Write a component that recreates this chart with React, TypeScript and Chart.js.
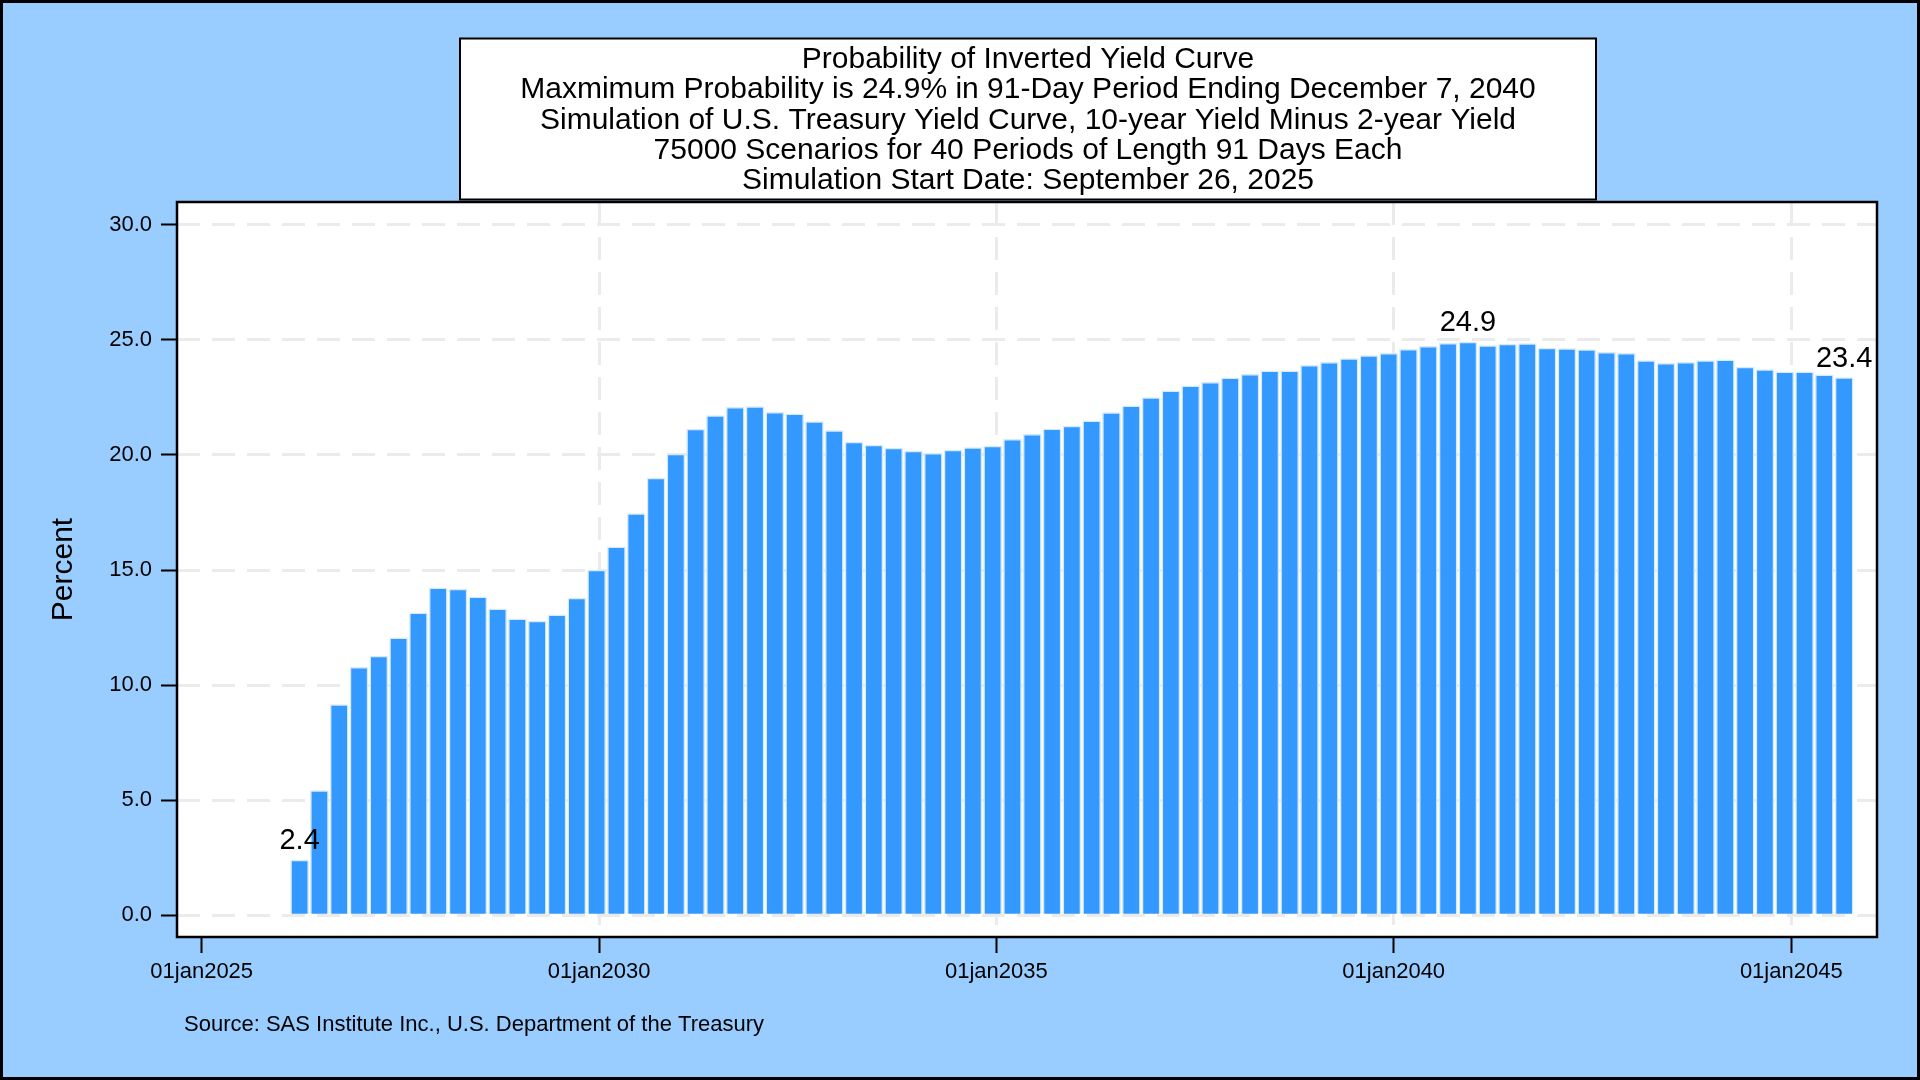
import { useEffect, useRef } from "react";
import { Chart, registerables } from "chart.js";

Chart.register(...registerables);

const titleLines = [
  "Probability of Inverted Yield Curve",
  "Maxmimum Probability is 24.9% in 91-Day Period Ending December 7, 2040",
  "Simulation of U.S. Treasury Yield Curve, 10-year Yield Minus 2-year Yield",
  "75000 Scenarios for 40 Periods of Length 91 Days Each",
  "Simulation Start Date: September 26, 2025",
];
const sourceNote = "Source: SAS Institute Inc., U.S. Department of the Treasury";
const yAxisTitle = "Percent";

// Simulation start (year, month index, day) and period length
const simulationStart = [2025, 8, 26];
const periodLengthDays = 91;
const firstPeriod = 2;

// Probability (%) of an inverted curve for each 91-day period
const inversionProbability = [
  2.4, 5.42, 9.16, 10.78, 11.26, 12.06, 13.14, 14.23, 14.17, 13.84,
  13.32, 12.88, 12.78, 13.06, 13.78, 15.0, 16.01, 17.45, 19.0, 20.04,
  21.13, 21.71, 22.07, 22.1, 21.85, 21.79, 21.45, 21.06, 20.56, 20.43,
  20.3, 20.17, 20.07, 20.21, 20.32, 20.39, 20.68, 20.9, 21.14, 21.26,
  21.48, 21.84, 22.13, 22.49, 22.79, 23.0, 23.16, 23.35, 23.5, 23.66,
  23.66, 23.9, 24.02, 24.19, 24.32, 24.42, 24.59, 24.72, 24.85, 24.9,
  24.75, 24.82, 24.84, 24.64, 24.62, 24.58, 24.46, 24.42, 24.1, 23.98,
  24.03, 24.1, 24.13, 23.82, 23.71, 23.61, 23.61, 23.48, 23.36,
];

const yTickValues = [0, 5, 10, 15, 20, 25, 30];
const xTickYears = [2025, 2030, 2035, 2040, 2045];
const monthAbbr = ["jan", "feb", "mar", "apr", "may", "jun", "jul", "aug", "sep", "oct", "nov", "dec"];

const FONT = "'Liberation Sans', Arial, Helvetica, sans-serif";
const dayNum = (y: number, m: number, d: number) => Date.UTC(y, m, d) / 86400000;
const startDay = dayNum(simulationStart[0], simulationStart[1], simulationStart[2]);
const axisRef = dayNum(2025, 0, 1);

export default function App() {
  const canvasRef = useRef<HTMLCanvasElement | null>(null);

  useEffect(() => {
    if (!canvasRef.current) return;
    const points = inversionProbability.map((v, i) => ({
      x: startDay + (firstPeriod + i) * periodLengthDays,
      y: v,
    }));
    let maxIdx = 0;
    inversionProbability.forEach((v, i) => {
      if (v > inversionProbability[maxIdx]) maxIdx = i;
    });
    const labelIdx = [0, maxIdx, inversionProbability.length - 1];

    const decor = {
      id: "decor",
      beforeDraw(chart: any) {
        const { ctx, width, height, chartArea } = chart;
        ctx.save();
        ctx.fillStyle = "#99CCFF";
        ctx.fillRect(0, 0, width, height);
        ctx.fillStyle = "#FFFFFF";
        ctx.fillRect(chartArea.left, chartArea.top, chartArea.right - chartArea.left, chartArea.bottom - chartArea.top);
        ctx.restore();
      },
      afterDraw(chart: any) {
        const { ctx, width, height, chartArea } = chart;
        ctx.save();
        // data labels
        const meta = chart.getDatasetMeta(0);
        ctx.fillStyle = "#000";
        ctx.font = `29px ${FONT}`;
        ctx.textAlign = "center";
        ctx.textBaseline = "alphabetic";
        labelIdx.forEach((i) => {
          const el = meta.data[i];
          ctx.fillText(inversionProbability[i].toFixed(1), el.x, el.y - 11);
        });
        // plot frame
        ctx.strokeStyle = "#000";
        ctx.lineWidth = 2.5;
        ctx.strokeRect(chartArea.left, chartArea.top, chartArea.right - chartArea.left, chartArea.bottom - chartArea.top);
        // title box
        ctx.fillStyle = "#FFFFFF";
        ctx.fillRect(460, 38.5, 1136, 161);
        ctx.lineWidth = 2;
        ctx.strokeRect(460, 38.5, 1136, 161);
        ctx.fillStyle = "#000";
        ctx.font = `30px ${FONT}`;
        ctx.textAlign = "center";
        titleLines.forEach((line, i) => {
          ctx.fillText(line, 1028, 68.2 + i * 30.25);
        });
        // source
        ctx.font = `22px ${FONT}`;
        ctx.textAlign = "left";
        ctx.fillText(sourceNote, 184, 1031);
        // outer border
        ctx.lineWidth = 3;
        ctx.strokeRect(1.5, 1.5, width - 3, height - 3);
        ctx.restore();
      },
    };

    const gridCommon = {
      color: "#EBEBEB",
      lineWidth: 3,
      tickLength: 16,
      tickWidth: 2,
      tickColor: "#000",
      offset: false,
    };

    const chart = new Chart(canvasRef.current, {
      type: "bar",
      data: {
        datasets: [
          {
            data: points as any,
            backgroundColor: "#3399FF",
            borderColor: "#D6EAFF",
            borderWidth: 1.5,
            barThickness: 18,
            borderSkipped: "start",
          },
        ],
      },
      options: {
        animation: false,
        responsive: true,
        maintainAspectRatio: false,
        devicePixelRatio: 1,
        layout: { padding: { top: 202, right: 43, bottom: 0, left: 0 } },
        plugins: {
          legend: { display: false },
          title: { display: false },
          tooltip: { enabled: false },
        },
        scales: {
          x: {
            type: "linear",
            min: axisRef - 113.5,
            max: axisRef + 7699,
            offset: false,
            afterBuildTicks: (s: any) => {
              s.ticks = xTickYears.map((y) => ({ value: dayNum(y, 0, 1) }));
            },
            afterFit: (s: any) => {
              s.height = 143;
            },
            ticks: {
              autoSkip: false,
              maxRotation: 0,
              color: "#000",
              padding: 6,
              font: { family: FONT, size: 22 },
              callback: (v: any) => {
                const d = new Date(Number(v) * 86400000);
                const dd = String(d.getUTCDate()).padStart(2, "0");
                return `${dd}${monthAbbr[d.getUTCMonth()]}${d.getUTCFullYear()}`;
              },
            },
            grid: {
              ...gridCommon,
              color: (c: any) => (c.index === 0 ? "rgba(0,0,0,0)" : "#EBEBEB"),
            },
            border: { display: false, dash: [23, 12] },
          },
          y: {
            min: -0.94,
            max: 30.99,
            afterBuildTicks: (s: any) => {
              s.ticks = yTickValues.map((v) => ({ value: v }));
            },
            afterFit: (s: any) => {
              s.width = 177;
            },
            ticks: {
              color: "#000",
              padding: 9,
              font: { family: FONT, size: 22 },
              callback: (v: any) => Number(v).toFixed(1),
            },
            grid: gridCommon,
            border: { display: false, dash: [23, 12] },
            title: {
              display: true,
              text: yAxisTitle,
              color: "#000",
              font: { family: FONT, size: 30 },
              padding: { top: 46, bottom: 0 },
            },
          },
        },
      } as any,
      plugins: [decor],
    });

    return () => chart.destroy();
  }, []);

  return (
    <div style={{ position: "fixed", left: 0, top: 0, width: 1920, height: 1080 }}>
      <canvas ref={canvasRef} />
    </div>
  );
}
